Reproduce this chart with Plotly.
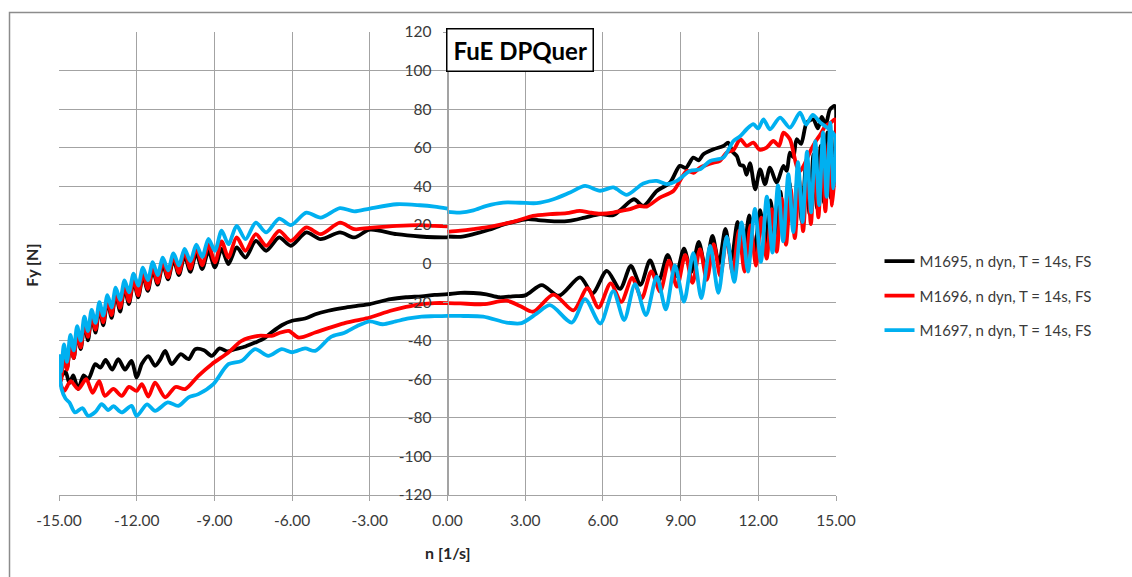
import plotly.graph_objects as go

# ---------------- data ----------------
# upper branch, left half (shared speed grid for all three runs)
n_up_left = [-15.0, -14.92, -14.81, -14.69, -14.56, -14.43, -14.30, -14.16, -14.02, -13.88,
             -13.74, -13.59, -13.44, -13.29, -13.13, -12.97, -12.81, -12.64, -12.47, -12.30,
             -12.12, -11.94, -11.76, -11.57, -11.38, -11.19, -10.99, -10.79, -10.58, -10.37,
             -10.15, -9.93, -9.70, -9.47, -9.23, -8.98, -8.72, -8.46, -8.14, -7.80,
             -7.40, -7.00, -6.50, -6.05, -5.45, -4.90, -4.15, -3.60, -3.00, -1.96,
             -1.06, -0.50, 0.0]
fy_black_up_left = [-51, -59.2, -46.8, -54.2, -41, -49, -36, -44.4, -31, -39.8,
                    -27, -35.8, -22.8, -32, -19.1, -28.2, -15.6, -24.9, -12.6, -21,
                    -9.2, -17.5, -6.3, -14.2, -3.4, -11, -0.4, -8.2, 2, -6,
                    4, -4.3, 5.4, -2.9, 6.5, -2, 7.6, -0.3, 8.3, 3.1,
                    11.7, 6.6, 13.5, 9.2, 16.1, 12.6, 16.1, 13.5, 17.5, 15.2,
                    14.0, 13.6, 13.5]
fy_red_up_left = [-53, -61, -47, -55, -41, -49, -36, -43.5, -30.5, -38,
                  -26.5, -34.3, -22.3, -30.5, -18.6, -26.7, -14.9, -23, -11.2, -19.7,
                  -8.1, -16.5, -4.8, -13.1, -1.5, -10, 1.5, -7.2, 4, -4.9,
                  6.2, -2.7, 8.2, -0.9, 9.9, 0.6, 11.5, 3.1, 13.5, 6.6,
                  15.2, 9.2, 16.9, 11.7, 18.7, 15.2, 21.2, 17.8, 18.5, 19.5,
                  19.9, 19.5, 19.2]
fy_blue_up_left = [-47, -56, -42, -51, -37, -45, -32.5, -40, -27.5, -35,
                   -24, -30.8, -20, -27, -16.4, -22.8, -12.5, -18.9, -8.7, -15,
                   -5.2, -11.5, -2.1, -8.6, 0.7, -6, 3, -3.5, 5.3, -1,
                   7.6, 1.2, 9.8, 3.4, 12.8, 6.6, 17, 10, 19.5, 12.6,
                   21.2, 16.1, 23.3, 19.9, 26.4, 23.8, 28.7, 27, 28.5, 30.7,
                   30.2, 29.5, 28.5]

# upper branch, right half
n_black_up_right = [0.0, 0.5, 1.0, 1.6, 2.2, 2.7, 3.1, 3.5, 3.85, 4.3,
                    4.7, 5.3, 5.9, 6.4, 6.7, 7.2, 7.56, 8.08, 8.59, 8.97,
                    9.2, 9.49, 9.7, 9.88, 10.27, 10.65, 10.84, 11.0, 11.17, 11.3,
                    11.43, 11.55, 11.68, 11.88, 12.07, 12.26, 12.45, 12.71, 12.97, 13.1,
                    13.22, 13.35, 13.48, 13.65, 13.87, 14.12, 14.3, 14.45, 14.6, 14.77,
                    14.96]
fy_black_up_right = [14, 13.8, 15.2, 17.5, 20.4, 22, 23, 22.5, 22.1, 21.8,
                     22.1, 23.8, 25.6, 25, 28, 33.3, 29.8, 37.6, 41.9, 50.6,
                     49.5, 54.9, 53.5, 56.6, 59.2, 60.9, 62.6, 58, 55.7, 51,
                     50.6, 46, 52, 38.5, 48.8, 41.1, 49.7, 41.9, 50.6, 48,
                     57.5, 55, 64.4, 62, 73, 74.7, 70, 76, 72, 79.9,
                     81.6]
n_red_up_right = [0.0, 0.5, 1.0, 1.5, 2.0, 2.67, 3.3, 3.95, 4.6, 5.1,
                  5.5, 5.9, 6.4, 6.66, 7.05, 7.4, 7.69, 8.2, 8.72, 9.24,
                  9.5, 9.75, 10.27, 10.5, 10.78, 11.05, 11.3, 11.55, 11.81, 12.05,
                  12.32, 12.58, 12.8, 12.97, 13.22, 13.35, 13.48, 13.61, 13.8, 14.0,
                  14.2, 14.4, 14.6, 14.8, 14.96]
fy_red_up_right = [16.4, 17, 17.8, 18.7, 20, 22.1, 24.7, 25.6, 26.1, 27.3,
                   26.4, 25.8, 26.4, 27.2, 28.2, 29.8, 29.5, 34.2, 37.6, 48,
                   47, 49.7, 52.3, 53, 57.5, 59, 64.4, 61, 62.6, 59,
                   60.1, 63.5, 61, 67.8, 64.4, 58, 50.6, 48, 52, 58,
                   63, 67, 71.3, 73, 74.7]
n_blue_up_right = [0.0, 0.48, 1.0, 1.51, 2.15, 2.8, 3.44, 4.09, 4.73, 5.31,
                   5.89, 6.4, 6.92, 7.56, 8.08, 8.46, 8.85, 9.36, 9.75, 10.14,
                   10.65, 11.04, 11.3, 11.55, 11.81, 12.0, 12.2, 12.45, 12.84, 13.22,
                   13.61, 13.85, 14.1, 14.4, 14.7, 14.96]
fy_blue_up_right = [26.8, 26.4, 27.5, 29.9, 31.6, 31.5, 31.3, 33.3, 36.8, 40.2,
                    37.7, 39.4, 35.6, 41.5, 42.8, 41.1, 42.8, 48, 48.8, 53.1,
                    54.9, 63.5, 66, 69.6, 72.2, 70, 74.7, 69.6, 75.6, 70.4,
                    78.2, 72, 77, 73, 70, 66]

# lower branch (traversed from +15 back to -15)
n_black_low = [14.80, 14.67, 14.54, 14.41, 14.27, 14.13, 13.98, 13.84, 13.68, 13.53,
               13.36, 13.20, 13.02, 12.85, 12.66, 12.47, 12.27, 12.07, 11.86, 11.65,
               11.42, 11.20, 10.96, 10.73, 10.48, 10.23, 9.96, 9.70, 9.41, 9.13,
               8.81, 8.50, 8.16, 7.82, 7.45, 7.08, 6.66, 6.15, 5.6, 5.12,
               4.3, 3.64, 3.0, 2.5, 2.0, 1.5, 1.0, 0.5, 0.0, -0.5,
               -1.0, -1.6, -2.2, -3.0, -3.5, -4.0, -4.6, -5.1, -5.5, -6.0,
               -6.4, -6.8, -7.1, -7.43, -7.8, -8.2, -8.5, -8.8, -9.1, -9.4,
               -9.74, -10.0, -10.3, -10.65, -10.9, -11.1, -11.29, -11.55, -11.8, -12.0,
               -12.2, -12.45, -12.71, -12.95, -13.2, -13.4, -13.6, -13.87, -14.05, -14.26,
               -14.45, -14.6, -14.75, -14.9, -15.0]
fy_black_low = [34, 68, 31.5, 61, 28.7, 56.5, 25.7, 51.7, 22, 46.4,
                18.6, 41.8, 15.2, 37.2, 12.3, 32.7, 9.2, 27.7, 6.2, 24.9,
                3.7, 21.6, 1.8, 17.9, -0.1, 14.3, -2.2, 11.2, -4.4, 7.7,
                -6.6, 4.5, -8.9, 1.6, -11.1, -1.3, -13.2, -3.8, -15.5, -7.2,
                -16.7, -11.2, -16.5, -17, -17.5, -16, -15.3, -15.2, -15.9, -16.3,
                -17, -17.5, -18.5, -21, -22, -23, -24.5, -26.3, -28.5, -29.7,
                -32, -35.8, -39, -41, -43, -44.4, -45.5, -44, -47.9, -45,
                -44.4, -49.6, -47, -52.2, -45.3, -50, -53, -48, -52, -59.1,
                -50.5, -55, -49.6, -55, -50, -54, -52.2, -60, -58, -65.1,
                -58, -62, -56, -58.2, -56]
n_red_low = [14.85, 14.72, 14.59, 14.46, 14.32, 14.18, 14.03, 13.89, 13.73, 13.58,
             13.41, 13.25, 13.07, 12.90, 12.71, 12.52, 12.32, 12.12, 11.91, 11.70,
             11.47, 11.25, 11.01, 10.78, 10.53, 10.28, 10.01, 9.75, 9.46, 9.18,
             8.86, 8.55, 8.21, 7.87, 7.50, 7.13, 6.71, 6.30, 5.83, 5.40,
             4.86, 4.09, 3.31, 2.8, 2.28, 1.38, 0.5, 0.0, -0.5, -1.0,
             -1.6, -2.2, -3.0, -3.5, -4.0, -4.6, -5.11, -5.75, -6.13, -6.5,
             -6.79, -7.3, -7.95, -8.46, -9.1, -9.62, -10.13, -10.5, -10.9, -11.29,
             -11.55, -11.8, -12.0, -12.3, -12.58, -12.9, -13.23, -13.45, -13.7, -13.95,
             -14.26, -14.55, -14.8, -15.0]
fy_red_low = [30, 62.5, 27, 57.4, 23.9, 52.9, 20.4, 48.3, 16.7, 43.2,
              13.2, 38.5, 9.7, 33.6, 6.1, 28.2, 2.5, 23.8, -1.1, 19.8,
              -4.2, 17, -5, 13.5, -6.5, 10, -8.5, 7.5, -10, 4.5,
              -12, 1.5, -14.5, -4.1, -18, -7.5, -19.9, -10.3, -22.8, -12.8,
              -24.3, -16.1, -25, -22, -19.3, -21.1, -20.7, -20.5, -20.5, -21,
              -22.5, -24.5, -28, -29.5, -31, -33.5, -35.8, -38.4, -34.9, -36,
              -37.5, -37.5, -40.1, -46.1, -52.2, -58.2, -65.1, -64, -69.4, -61.7,
              -69, -62.5, -66, -64, -68.6, -65, -68.6, -61, -67, -60,
              -65.1, -61, -66, -60]
n_blue_low = [14.9, 14.78, 14.64, 14.5, 14.35, 14.2, 14.04, 13.88, 13.71, 13.53,
              13.35, 13.16, 12.96, 12.76, 12.55, 12.33, 12.1, 11.87, 11.6, 11.36,
              11.07, 10.78, 10.46, 10.14, 9.8, 9.49, 9.13, 8.78, 8.43, 8.08,
              7.66, 7.24, 6.82, 6.4, 5.9, 5.31, 4.8, 3.96, 3.44, 2.86,
              2.28, 1.38, 0.5, 0.0, -0.5, -1.0, -1.5, -2.0, -2.5, -3.0,
              -3.5, -4.0, -4.5, -5.11, -5.5, -6.0, -6.4, -6.92, -7.43, -7.95,
              -8.46, -9.04, -9.62, -10.0, -10.39, -10.8, -11.29, -11.6, -12.0, -12.2,
              -12.58, -12.9, -13.1, -13.35, -13.6, -13.87, -14.1, -14.38, -14.6, -14.75,
              -14.9, -15.0]
fy_blue_low = [39, 73, 34.5, 68, 30.3, 63.4, 26.5, 58, 21.5, 52.5,
               16.3, 46.3, 11.5, 40.5, 5.7, 34.7, 0.8, 28.3, -4.2, 21.3,
               -9.5, 13.9, -15.2, 9.1, -17.9, 5.4, -19.8, -1, -23.8, -6.8,
               -26.7, -10.7, -29.3, -14.3, -31.1, -18.5, -30.6, -21.6, -26, -30.9,
               -30.6, -27.5, -27.2, -27.1, -27.3, -27.5, -28.5, -30, -31.5, -30,
               -32.5, -36, -38, -45.3, -44, -46, -44.4, -47.9, -44.4, -50.5,
               -52.2, -62.5, -67.7, -69.4, -73.8, -72, -76.4, -73, -79, -73.8,
               -77.2, -74, -76, -72.9, -77, -79, -75, -77.2, -72, -70,
               -65.1, -53]

series_names = ["M1695, n dyn, T = 14s, FS", "M1696, n dyn, T = 14s, FS", "M1697, n dyn, T = 14s, FS"]
series_colors = ["#000000", "#ff0000", "#00b0f0"]

x_ticks = [-15, -12, -9, -6, -3, 0, 3, 6, 9, 12, 15]
x_tick_labels = ["-15.00", "-12.00", "-9.00", "-6.00", "-3.00", "0.00",
                 "3.00", "6.00", "9.00", "12.00", "15.00"]
y_ticks = [-120, -100, -80, -60, -40, -20, 0, 20, 40, 60, 80, 100, 120]
y_tick_labels = ["-120", "-100", "-80", "-60", "-40", "-20", "0",
                 "20", "40", "60", "80", "100", "120"]

chart_title = "FuE DPQuer"
x_title = "n [1/s]"
y_title = "Fy [N]"


def build_loop(nl, yl, nr, yr, nlow, ylow):
    xs = list(nl) + [None] + list(nr) + list(nlow)
    ys = list(yl) + [None] + list(yr) + list(ylow)
    return xs, ys


loops = [
    build_loop(n_up_left, fy_black_up_left, n_black_up_right, fy_black_up_right, n_black_low, fy_black_low),
    build_loop(n_up_left, fy_red_up_left, n_red_up_right, fy_red_up_right, n_red_low, fy_red_low),
    build_loop(n_up_left, fy_blue_up_left, n_blue_up_right, fy_blue_up_right, n_blue_low, fy_blue_low),
]

FONT = "Lato, Carlito, 'Open Sans', sans-serif"
GRID = "#a3a3a3"
TICKCOL = "#3a3a3a"

fig = go.Figure()
for (xs, ys), name, col in zip(loops, series_names, series_colors):
    fig.add_trace(go.Scatter(
        x=xs, y=ys, mode="lines", name=name, legendgroup=name,
        connectgaps=False,
        line=dict(color=col, width=3.8, shape="spline", smoothing=0.8),
    ))

fig.update_layout(
    width=1132, height=577, autosize=False,
    margin=dict(l=59, r=296, t=32, b=82),
    paper_bgcolor="white", plot_bgcolor="white",
    font=dict(family=FONT, size=15, color=TICKCOL),
    showlegend=True,
    xaxis=dict(
        range=[-15, 15], tickvals=x_ticks, ticktext=x_tick_labels,
        showgrid=True, gridcolor=GRID, gridwidth=1, zeroline=False,
        showline=True, linecolor=GRID, linewidth=1,
        ticks="outside", ticklen=5, tickcolor=GRID,
        ticklabelstandoff=6,
        tickfont=dict(family=FONT, size=15.5, color=TICKCOL),
    ),
    yaxis=dict(
        range=[-120, 120], tickvals=y_ticks, ticktext=y_tick_labels,
        showgrid=True, gridcolor=GRID, gridwidth=1, zeroline=False,
        showline=True, linecolor=GRID, linewidth=1,
        ticks="outside", ticklen=5, tickcolor=GRID,
        ticklabelstandoff=8,
        anchor="free", position=0.5,
        tickfont=dict(family=FONT, size=15.5, color=TICKCOL),
    ),
    legend=dict(
        x=1.056, y=0.43, xanchor="left", yanchor="middle",
        traceorder="grouped", tracegroupgap=12,
        font=dict(family=FONT, size=15, color=TICKCOL),
        bgcolor="rgba(0,0,0,0)",
    ),
    annotations=[
        dict(text="<b>" + chart_title + "</b>", xref="paper", yref="paper",
             x=0.5935, y=0.9605, xanchor="center", yanchor="middle", showarrow=False,
             font=dict(family=FONT, size=24, color="#000000"),
             bordercolor="#000000", borderwidth=1.5, borderpad=6, bgcolor="white"),
        dict(text="<b>" + x_title + "</b>", xref="paper", yref="paper",
             x=0.5, y=-0.125, xanchor="center", yanchor="middle", showarrow=False,
             font=dict(family=FONT, size=16, color="#262626")),
        dict(text="<b>" + y_title + "</b>", xref="paper", yref="paper",
             x=-0.035, y=0.497, xanchor="center", yanchor="middle", showarrow=False,
             textangle=-90, font=dict(family=FONT, size=16, color="#262626")),
    ],
    shapes=[
        dict(type="rect", xref="paper", yref="paper",
             x0=-0.0637, x1=1.385, y0=-0.23, y1=1.042,
             line=dict(color="#8c8c8c", width=1.5), fillcolor="rgba(0,0,0,0)", layer="below"),
    ],
)

fig.write_html("out.html")
